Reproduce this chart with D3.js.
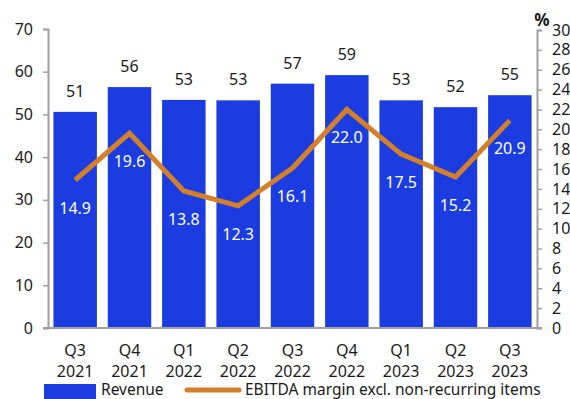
<!DOCTYPE html>
<html>
<head>
<meta charset="utf-8">
<script src="https://cdn.jsdelivr.net/npm/d3@7"></script>
<style>
  html, body { margin: 0; padding: 0; background: #fff; }
  svg { display: block; font-family: "Noto Sans", sans-serif; }
</style>
</head>
<body>
<svg id="chart" width="570" height="399"></svg>
<script>
// Quarterly revenue (bars, left axis) and EBITDA margin (line, right axis, %)
const quarters = ["Q3", "Q4", "Q1", "Q2", "Q3", "Q4", "Q1", "Q2", "Q3"];
const years = ["2021", "2021", "2022", "2022", "2022", "2022", "2023", "2023", "2023"];
const revenue = [50.6, 56.4, 53.4, 53.3, 57.2, 59.2, 53.3, 51.7, 54.5];
const ebitdaMargin = [14.9, 19.6, 13.8, 12.3, 16.1, 22.0, 17.5, 15.2, 20.9];
const leftTicks = [0, 10, 20, 30, 40, 50, 60, 70];
const rightTicks = [0, 2, 4, 6, 8, 10, 12, 14, 16, 18, 20, 22, 24, 26, 28, 30];
const legendLabels = ["Revenue", "EBITDA margin excl. non-recurring items"];

const barColor = "#1a3ce0";
const lineColor = "#d4802a";
const axisColor = "#a0a0a0";
const textColor = "#1a1a1a";
const fs = 16;

const svg = d3.select("#chart");
const plotL = 48, plotR = 537, plotT = 29, plotB = 328;

const keys = quarters.map((q, i) => i);
const x = d3.scaleBand().domain(keys).range([plotL, plotR]).paddingInner(0.2).paddingOuter(0.1);
const yL = d3.scaleLinear().domain([0, 70]).range([plotB, plotT]);
const yR = d3.scaleLinear().domain([0, 30]).range([plotB, plotT + 1]);

// Bars
svg.append("g").selectAll("rect").data(revenue).join("rect")
  .attr("x", (d, i) => x(i))
  .attr("y", d => yL(d))
  .attr("width", x.bandwidth())
  .attr("height", d => plotB - yL(d))
  .attr("fill", barColor);

// Bar value labels
svg.append("g").selectAll("text").data(revenue).join("text")
  .attr("x", (d, i) => x(i) + x.bandwidth() / 2)
  .attr("y", d => yL(d) - 15)
  .attr("text-anchor", "middle")
  .attr("font-size", fs)
  .attr("fill", textColor)
  .text(d => d3.format(".0f")(d));

// Left axis
const axL = svg.append("g").attr("transform", `translate(${plotL},0)`)
  .call(d3.axisLeft(yL).tickValues(leftTicks).tickSize(5).tickPadding(10));
// Right axis
const axR = svg.append("g").attr("transform", `translate(${plotR},0)`)
  .call(d3.axisRight(yR).tickValues(rightTicks).tickSize(5).tickPadding(10));
[axL, axR].forEach(ax => {
  ax.select(".domain").attr("stroke", axisColor).attr("stroke-width", 2);
  ax.selectAll(".tick line").attr("stroke", axisColor).attr("stroke-width", 1.5);
  ax.selectAll(".tick text").attr("font-size", fs).attr("fill", textColor)
    .attr("font-family", "Noto Sans, sans-serif");
});

// Baseline
svg.append("line")
  .attr("x1", plotL - 5).attr("x2", plotR + 5)
  .attr("y1", plotB).attr("y2", plotB)
  .attr("stroke", axisColor).attr("stroke-width", 2);

// Percent unit label
svg.append("text")
  .attr("x", 542).attr("y", 26)
  .attr("text-anchor", "middle")
  .attr("font-size", 17).attr("font-weight", "bold")
  .attr("fill", textColor)
  .text("%");

// EBITDA margin line
const line = d3.line()
  .x((d, i) => x(i) + x.bandwidth() / 2)
  .y(d => yR(d));
svg.append("path").datum(ebitdaMargin)
  .attr("d", line)
  .attr("fill", "none")
  .attr("stroke", lineColor)
  .attr("stroke-width", 5)
  .attr("stroke-linejoin", "miter")
  .attr("stroke-linecap", "butt");

// Margin labels (white, below points)
svg.append("g").selectAll("text").data(ebitdaMargin).join("text")
  .attr("x", (d, i) => x(i) + x.bandwidth() / 2)
  .attr("y", d => yR(d) + 34)
  .attr("text-anchor", "middle")
  .attr("font-size", fs)
  .attr("fill", "#ffffff")
  .text(d => d3.format(".1f")(d));

// Category labels
const cat = svg.append("g").selectAll("text").data(keys).join("text")
  .attr("text-anchor", "middle")
  .attr("font-size", fs)
  .attr("fill", textColor);
cat.append("tspan")
  .attr("x", i => x(i) + x.bandwidth() / 2)
  .attr("y", 356)
  .text(i => quarters[i]);
cat.append("tspan")
  .attr("x", i => x(i) + x.bandwidth() / 2)
  .attr("y", 377)
  .text(i => years[i]);

// Legend
const lg = svg.append("g");
lg.append("rect").attr("x", 44).attr("y", 384).attr("width", 52).attr("height", 15).attr("fill", barColor);
lg.append("text").attr("x", 101).attr("y", 395).attr("font-size", 15.5).attr("fill", textColor).text(legendLabels[0]);
lg.append("line").attr("x1", 187).attr("x2", 239).attr("y1", 390).attr("y2", 390)
  .attr("stroke", lineColor).attr("stroke-width", 5).attr("stroke-linecap", "round");
lg.append("text").attr("x", 245).attr("y", 395).attr("font-size", 15.5).attr("fill", textColor).text(legendLabels[1]);
</script>
</body>
</html>
